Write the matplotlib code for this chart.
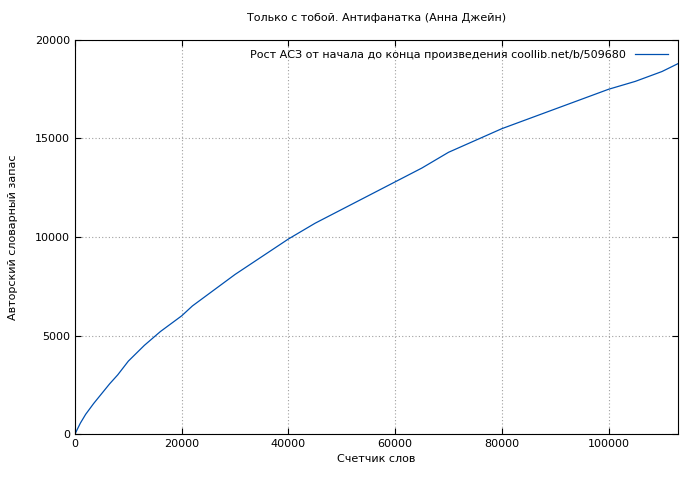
import matplotlib
matplotlib.use("Agg")
import matplotlib.pyplot as plt

words = [0, 1000, 2000, 3500, 5000, 6500, 8000, 10000, 13000, 16000, 20000, 22000, 25000, 30000, 35000, 40000,
         45000, 50000, 55000, 60000, 65000, 70000, 75000, 80000, 85000, 90000, 95000, 100000, 105000, 110000, 113000]
vocab = [0, 550, 1000, 1550, 2050, 2550, 3000, 3700, 4500, 5200, 6000, 6500, 7100, 8100, 9000, 9900,
         10700, 11400, 12100, 12800, 13500, 14300, 14900, 15500, 16000, 16500, 17000, 17500, 17900, 18400, 18800]

plt.rcParams['font.family'] = ['DejaVu Sans']
fig = plt.figure(figsize=(7, 4.8), dpi=100)
ax = fig.add_axes([75/700, 1-434/480, 603/700, 394/480])
ax.plot(words, vocab, color='#0050b0', lw=0.9, label='Рост АСЗ от начала до конца произведения coollib.net/b/509680')
ax.set_xlim(0, 113000)
ax.set_ylim(0, 20000)
ax.set_xticks([0, 20000, 40000, 60000, 80000, 100000])
ax.set_yticks([0, 5000, 10000, 15000, 20000])
ax.grid(True, color='#a0a0a0', linestyle=(0, (1, 2)), lw=0.8)
ax.tick_params(labelsize=8, direction='in', length=4, top=True, right=True)
ax.set_xlabel('Счетчик слов', fontsize=8)
ax.set_ylabel('Авторский словарный запас', fontsize=8, labelpad=12)
ax.set_title('Только с тобой. Антифанатка (Анна Джейн)', fontsize=8, pad=14)
ax.legend(loc='upper right', frameon=False, fontsize=8, markerfirst=False, handlelength=3)
fig.savefig('out.png', dpi=100)
